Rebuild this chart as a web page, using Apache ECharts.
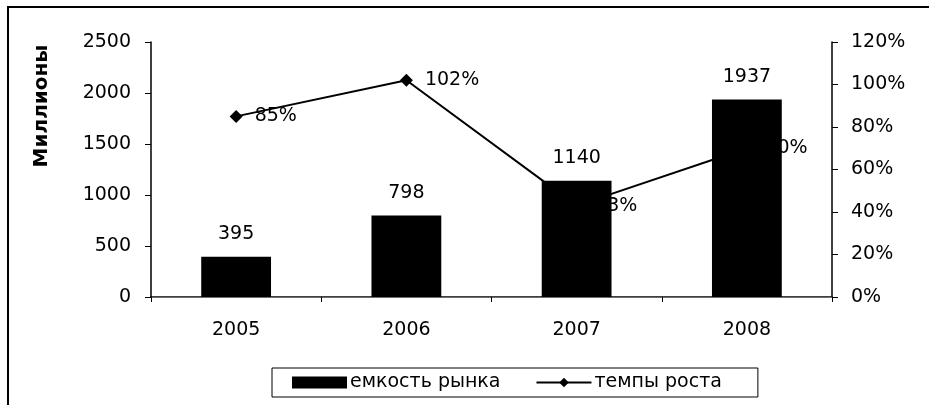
<!DOCTYPE html>
<html>
<head>
<meta charset="utf-8">
<script src="https://cdn.jsdelivr.net/npm/echarts@6/dist/echarts.min.js"></script>
<style>
  html, body { margin: 0; padding: 0; background: #fff; }
  #chart { width: 929px; height: 405px; }
</style>
</head>
<body>
<div id="chart"></div>
<script>
var years = ["2005", "2006", "2007", "2008"];
var marketSize = [395, 798, 1140, 1937];
var growthRate = [85, 102, 43, 70];
var leftTicks = { min: 0, max: 2500, interval: 500 };
var rightTicks = { min: 0, max: 120, interval: 20 };

var chart = echarts.init(document.getElementById("chart"));
var font = "'DejaVu Sans', Arial, sans-serif";
var fs = 19;

chart.setOption({
  animation: false,
  textStyle: { fontFamily: font, color: "#000" },
  grid: { left: 151, right: 97, top: 42, bottom: 108 },
  graphic: [
    {
      type: "rect",
      shape: { x: 8, y: 7, width: 1000, height: 1000 },
      style: { fill: "none", stroke: "#000", lineWidth: 2 },
      silent: true
    },
    {
      type: "text",
      x: 42,
      y: 106,
      rotation: Math.PI / 2,
      style: {
        text: "Миллионы",
        fontFamily: font,
        fontSize: 20,
        fontWeight: "bold",
        fill: "#000",
        align: "center",
        verticalAlign: "middle"
      }
    }
  ],
  legend: {
    left: 272,
    top: 368,
    padding: [5, 36, 5, 20],
    itemGap: 35,
    itemWidth: 55,
    itemHeight: 12,
    borderColor: "#000",
    borderWidth: 1,
    textStyle: { fontSize: fs, fontFamily: font, color: "#000", padding: [0, 0, 0, -2] },
    data: [
      { name: "емкость рынка", icon: "rect" },
      { name: "темпы роста" }
    ]
  },
  xAxis: [
    {
      type: "category",
      data: years,
      axisLine: { lineStyle: { color: "#000", width: 1.5 } },
      axisTick: { show: true, length: 5, lineStyle: { color: "#000" } },
      axisLabel: { fontSize: fs, color: "#000", margin: 24, fontFamily: font }
    },
    {
      type: "category",
      data: years,
      position: "top",
      axisLine: { lineStyle: { color: "#777", type: "dotted", width: 1 } },
      axisTick: { show: false },
      axisLabel: { show: false }
    }
  ],
  yAxis: [
    {
      type: "value",
      min: leftTicks.min,
      max: leftTicks.max,
      interval: leftTicks.interval,
      axisLine: { show: true, lineStyle: { color: "#000", width: 1.5 } },
      axisTick: { show: true, length: 6, lineStyle: { color: "#000" } },
      axisLabel: {
        fontSize: fs, color: "#000", margin: 20, fontFamily: font,
        formatter: function (v) { return String(v); }
      },
      splitLine: { show: false }
    },
    {
      type: "value",
      min: rightTicks.min,
      max: rightTicks.max,
      interval: rightTicks.interval,
      position: "right",
      axisLine: { show: true, lineStyle: { color: "#000", width: 1.5 } },
      axisTick: { show: true, length: 6, lineStyle: { color: "#000" } },
      axisLabel: {
        fontSize: fs, color: "#000", margin: 19, fontFamily: font,
        formatter: function (v) { return v + "%"; }
      },
      splitLine: { show: false }
    }
  ],
  series: [
    {
      name: "темпы роста",
      type: "line",
      yAxisIndex: 1,
      z: 1,
      data: growthRate,
      symbol: "diamond",
      symbolSize: 13,
      lineStyle: { color: "#000", width: 2 },
      itemStyle: { color: "#000" },
      label: {
        show: true,
        position: "right",
        distance: 12,
        fontSize: fs,
        color: "#000",
        fontFamily: font,
        formatter: "{c}%"
      }
    },
    {
      name: "емкость рынка",
      type: "bar",
      z: 3,
      data: marketSize,
      barWidth: "41%",
      itemStyle: { color: "#000" },
      label: {
        show: true,
        position: "top",
        distance: 13,
        fontSize: fs,
        color: "#000",
        fontFamily: font
      }
    }
  ]
});
</script>
</body>
</html>
